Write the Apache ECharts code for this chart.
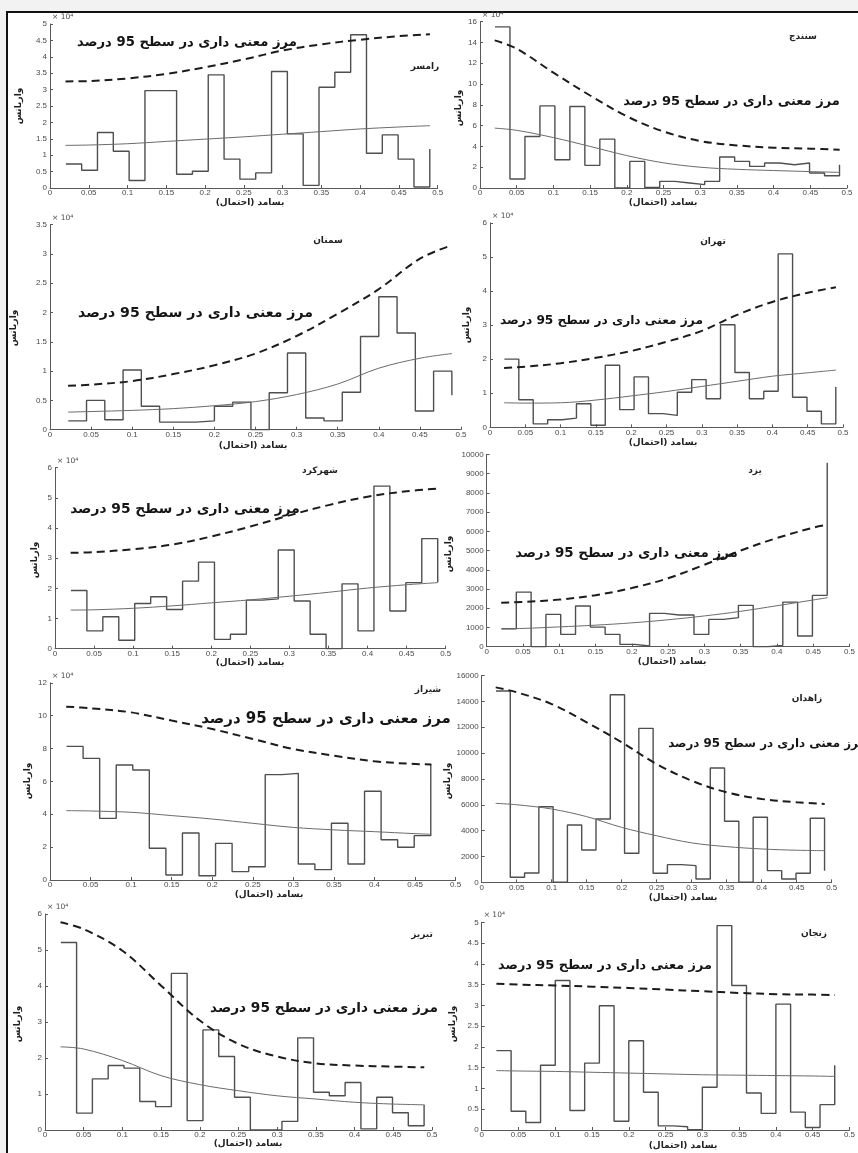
<!DOCTYPE html>
<html><head><meta charset="utf-8">
<script src="https://cdn.jsdelivr.net/npm/echarts@6/dist/echarts.min.js"></script>
<style>html,body{margin:0;padding:0;background:#f2f2f2}#c{width:858px;height:1153px}</style>
</head><body><div id="c"></div>
<script>
// ---------------- DATA ----------------
const cityNames = ['رامسر','سنندج','سمنان','تهران','شهرکرد','یزد','شیراز','زاهدان','تبریز','زنجان'];
const sigText = 'مرز معنی داری در سطح 95 درصد';
const xAxisTitle = 'بسامد (احتمال)';
const yAxisTitle = 'واریانس';
const xTicks = [0,0.05,0.1,0.15,0.2,0.25,0.3,0.35,0.4,0.45,0.5];
// series length N of each station (frequencies are k/N)
const seriesLength = [49,49,45,49,49,49,49,49,49,50];

// periodogram (variance) values per station
const ramsarVar   = [0.73,0.54,1.69,1.12,0.23,2.97,2.97,0.42,0.51,3.45,0.88,0.27,0.46,3.55,1.65,0.08,3.07,3.53,4.67,1.06,1.62,0.88,0.03,1.19];
const sanandajVar = [15.5,0.86,4.96,7.9,2.72,7.84,2.18,4.7,0.0,2.56,0.06,0.64,0.48,0.32,0.64,2.98,2.56,2.08,2.4,2.24,2.4,1.44,1.18,2.24];
const semnanVar   = [0.15,0.5,0.17,1.02,0.4,0.13,0.13,0.15,0.4,0.47,0.0,0.63,1.31,0.2,0.15,0.64,1.59,2.27,1.65,0.32,1.0,0.59];
const tehranVar   = [2.0,0.81,0.1,0.22,0.27,0.69,0.06,1.82,0.52,1.48,0.4,0.35,1.03,1.4,0.84,3.01,1.61,0.84,1.06,5.09,0.88,0.47,0.1,1.18];
const shahrekordVar = [1.93,0.59,1.06,0.28,1.5,1.72,1.3,2.24,2.87,0.31,0.48,1.61,1.65,3.27,1.58,0.48,0.0,2.15,0.59,5.39,1.25,2.19,3.65,2.2];
const yazdVar     = [935,2840,0,1680,640,2115,1020,640,120,35,1735,1650,1650,640,1420,1510,2150,0,70,2320,555,2670,9570];
const shirazVar   = [8.13,7.4,3.75,7.0,6.69,1.93,0.3,2.86,0.26,2.23,0.51,0.81,6.41,6.49,0.97,0.63,3.45,0.97,5.4,2.45,1.99,2.7,7.06];
const zahedanVar  = [14800,387,722,5850,0,4435,2500,4900,14515,2243,11910,696,1366,1289,258,8843,4718,0,5028,902,258,696,4950,902];
const tabrizVar   = [5.21,0.47,1.42,1.79,1.72,0.79,0.65,4.35,0.26,2.78,2.04,0.91,0.0,0.0,0.24,2.56,1.05,0.95,1.32,0.03,0.91,0.48,0.12,0.7];
const zanjanVar   = [1.91,0.45,0.18,1.56,3.6,0.47,1.61,2.99,0.21,2.15,0.91,0.1,0.08,0.01,1.03,4.92,3.48,0.89,0.4,3.03,0.43,0.06,0.61,1.56];

// frequencies at which the fitted spectrum / 95% bound curves were read
const curveF     = [0.02,0.05,0.1,0.15,0.2,0.25,0.3,0.35,0.4,0.45,0.49];
const semnanCurveF = [0.022,0.05,0.1,0.15,0.2,0.25,0.3,0.35,0.4,0.45,0.489];
const curveF47   = [0.02,0.05,0.1,0.15,0.2,0.25,0.3,0.35,0.4,0.45,0.47];
const curveF48   = [0.02,0.05,0.1,0.15,0.2,0.25,0.3,0.35,0.4,0.45,0.48];

// fitted (red-noise) spectrum
const ramsarFit   = [1.30,1.31,1.35,1.42,1.49,1.56,1.64,1.72,1.80,1.86,1.90];
const sanandajFit = [5.76,5.55,4.85,4.0,3.12,2.42,2.0,1.8,1.68,1.58,1.5];
const semnanFit   = [0.30,0.31,0.33,0.36,0.41,0.48,0.6,0.78,1.05,1.22,1.3];
const tehranFit   = [0.72,0.71,0.72,0.8,0.92,1.05,1.2,1.35,1.5,1.6,1.68];
const shahrekordFit = [1.28,1.29,1.34,1.42,1.52,1.62,1.74,1.87,2.01,2.12,2.19];
const yazdFit     = [935,950,1030,1120,1240,1400,1600,1840,2130,2430,2550];
const shirazFit   = [4.22,4.2,4.12,3.92,3.71,3.45,3.2,3.05,2.94,2.82,2.78];
const zahedanFit  = [6110,6000,5670,5080,4250,3600,3050,2760,2580,2480,2450];
const tabrizFit   = [2.31,2.25,1.93,1.51,1.26,1.09,0.95,0.86,0.77,0.72,0.7];
const zanjanFit   = [1.43,1.42,1.41,1.39,1.37,1.35,1.33,1.32,1.31,1.3,1.29];

// 95% significance bound
const ramsarBound   = [3.25,3.26,3.34,3.48,3.68,3.92,4.19,4.38,4.52,4.63,4.69];
const sanandajBound = [14.2,13.4,11.1,8.9,6.9,5.44,4.52,4.1,3.88,3.78,3.68];
const semnanBound   = [0.75,0.77,0.83,0.95,1.1,1.3,1.6,1.98,2.4,2.92,3.15];
const tehranBound   = [1.74,1.78,1.88,2.04,2.24,2.51,2.83,3.3,3.68,3.95,4.11];
const shahrekordBound = [3.18,3.2,3.3,3.45,3.72,4.05,4.42,4.76,5.04,5.22,5.31];
const yazdBound     = [2290,2330,2450,2680,3050,3560,4260,5000,5650,6190,6340];
const shirazBound   = [10.55,10.45,10.2,9.7,9.19,8.58,7.97,7.57,7.22,7.06,7.03];
const zahedanBound  = [15080,14700,13790,12380,10830,9150,7860,6960,6450,6190,6060];
const tabrizBound   = [5.77,5.58,4.98,4.01,3.04,2.39,2.04,1.85,1.79,1.76,1.74];
const zanjanBound   = [3.52,3.5,3.48,3.45,3.42,3.38,3.34,3.3,3.27,3.26,3.25];

const varData   = [ramsarVar,sanandajVar,semnanVar,tehranVar,shahrekordVar,yazdVar,shirazVar,zahedanVar,tabrizVar,zanjanVar];
const fitData   = [ramsarFit,sanandajFit,semnanFit,tehranFit,shahrekordFit,yazdFit,shirazFit,zahedanFit,tabrizFit,zanjanFit];
const boundData = [ramsarBound,sanandajBound,semnanBound,tehranBound,shahrekordBound,yazdBound,shirazBound,zahedanBound,tabrizBound,zanjanBound];
const curveFs   = [curveF,curveF,semnanCurveF,curveF,curveF,curveF47,curveF47,curveF,curveF,curveF48];
const yMax      = [5,16,3.5,6,6,10000,12,16000,6,5];
const yStep     = [0.5,2,0.5,1,1,1000,2,2000,1,0.5];
const hasExp    = [true,true,true,true,true,false,true,false,true,true];

// ---------------- LAYOUT (style only) ----------------
const L = [
 {l:50,   t:24,    w:387.7, h:164,   sig:[77,297,43],   city:[425,67],  yn:[19,106],  xn:[250,203]},
 {l:480,  t:21.7,  w:367,   h:166.3, sig:[623,840,102], city:[803,37],  yn:[459,108], xn:[663,203]},
 {l:50,   t:224.7, w:411,   h:205,   sig:[78,313,313],  city:[328,241], yn:[14,328],  xn:[253,446]},
 {l:490,  t:222.9, w:353,   h:204.4, sig:[500,703,321], city:[713,242], yn:[467,325], xn:[663,443]},
 {l:55,   t:467.7, w:390.7, h:181,   sig:[70,300,509],  city:[320,471], yn:[35,560],  xn:[250,663]},
 {l:486.7,t:454.4, w:391.3, h:192.3, sig:[515,738,554], city:[755,471], yn:[449,554], xn:[672,662]},
 {l:50,   t:682.8, w:405.6, h:197.2, sig:[200,452,719], city:[428,690], yn:[28,781],  xn:[269,895]},
 {l:481.7,t:675.5, w:350,   h:206.8, sig:[668,866,744], city:[807,699], yn:[448,781], xn:[683,898]},
 {l:45,   t:914,   w:387,   h:216,   sig:[210,438,1008],city:[422,935], yn:[18,1024], xn:[248,1144]},
 {l:481.7,t:922.3, w:384.3, h:207.7, sig:[498,712,966], city:[814,934], yn:[453,1024],xn:[683,1146]}
];

const FONT = '"DejaVu Sans", sans-serif';
const mctx = document.createElement('canvas').getContext('2d');
mctx.font = 'bold 12px ' + FONT;
const sigW12 = mctx.measureText(sigText).width;

const grids = [], xAxes = [], yAxes = [], series = [], graphics = [];
graphics.push({type:'rect', z:-10, silent:true, shape:{x:7,y:12,width:900,height:1200},
  style:{fill:'#ffffff', stroke:'#111', lineWidth:2}});

const axisCol = '#5a5a5a';
L.forEach((p,i) => {
  grids.push({left:p.l, top:p.t, width:p.w, height:p.h, containLabel:false});
  xAxes.push({type:'value', gridIndex:i, min:0, max:0.5, interval:0.05,
    axisLine:{show:true, onZero:false, lineStyle:{color:axisCol, width:1}},
    axisTick:{show:true, inside:true, length:3, lineStyle:{color:axisCol}},
    splitLine:{show:false},
    axisLabel:{fontSize:8, color:'#4a4a4a', margin:1, fontFamily:'"Liberation Sans", Arial',
      formatter: v => String(+v.toFixed(2))}});
  yAxes.push({type:'value', gridIndex:i, min:0, max:yMax[i], interval:yStep[i],
    axisLine:{show:true, lineStyle:{color:axisCol, width:1}},
    axisTick:{show:true, inside:true, length:3, lineStyle:{color:axisCol}},
    splitLine:{show:false},
    axisLabel:{fontSize:8, color:'#4a4a4a', margin:3, fontFamily:'"Liberation Sans", Arial',
      formatter: v => String(+v.toFixed(2))}});
  const N = seriesLength[i];
  const vd = varData[i];
  series.push({type:'line', xAxisIndex:i, yAxisIndex:i, step:'end', showSymbol:false, silent:true,
    animation:false, data: vd.map((v,k)=>[(k+1)/N, v]),
    lineStyle:{color:'#4f4f4f', width:1.4}});
  const cf = curveFs[i];
  series.push({type:'line', xAxisIndex:i, yAxisIndex:i, smooth:0.35, showSymbol:false, silent:true,
    animation:false, data: fitData[i].map((v,k)=>[cf[k], v]),
    lineStyle:{color:'#6b6b6b', width:1}});
  series.push({type:'line', xAxisIndex:i, yAxisIndex:i, smooth:0.35, showSymbol:false, silent:true,
    animation:false, data: boundData[i].map((v,k)=>[cf[k], v]),
    lineStyle:{color:'#1c1c1c', width:2, type:[8,5]}});

  // significance label
  const tw = p.sig[1]-p.sig[0];
  const fs = Math.max(9, Math.min(15, 12*tw/sigW12));
  graphics.push({type:'text', silent:true, z:10, style:{text:sigText, x:(p.sig[0]+p.sig[1])/2, y:p.sig[2],
    align:'center', verticalAlign:'middle', fill:'#151515', font:'bold '+fs.toFixed(2)+'px '+FONT}});
  // city
  graphics.push({type:'text', silent:true, z:10, style:{text:cityNames[i], x:p.city[0], y:p.city[1],
    align:'center', verticalAlign:'middle', fill:'#222', font:'bold 9px '+FONT}});
  // x title
  graphics.push({type:'text', silent:true, z:10, style:{text:xAxisTitle, x:p.xn[0], y:p.xn[1],
    align:'center', verticalAlign:'middle', fill:'#222', font:'bold 9px '+FONT}});
  // y title
  graphics.push({type:'text', silent:true, z:10, x:p.yn[0], y:p.yn[1], rotation:Math.PI/2,
    style:{text:yAxisTitle, x:0, y:0, align:'center', verticalAlign:'middle', fill:'#222', font:'bold 9px '+FONT}});
  // exponent
  if (hasExp[i]) {
    graphics.push({type:'text', silent:true, z:10, style:{text:'× 10⁴', x:p.l+2, y:p.t-7,
      align:'left', verticalAlign:'middle', fill:'#4a4a4a', font:'7.5px "DejaVu Sans"'}});
  }
});

const chart = echarts.init(document.getElementById('c'), null, {renderer:'canvas'});
chart.setOption({
  backgroundColor:'#f2f2f2',
  animation:false,
  grid:grids, xAxis:xAxes, yAxis:yAxes, series:series, graphic:graphics
});
</script></body></html>
